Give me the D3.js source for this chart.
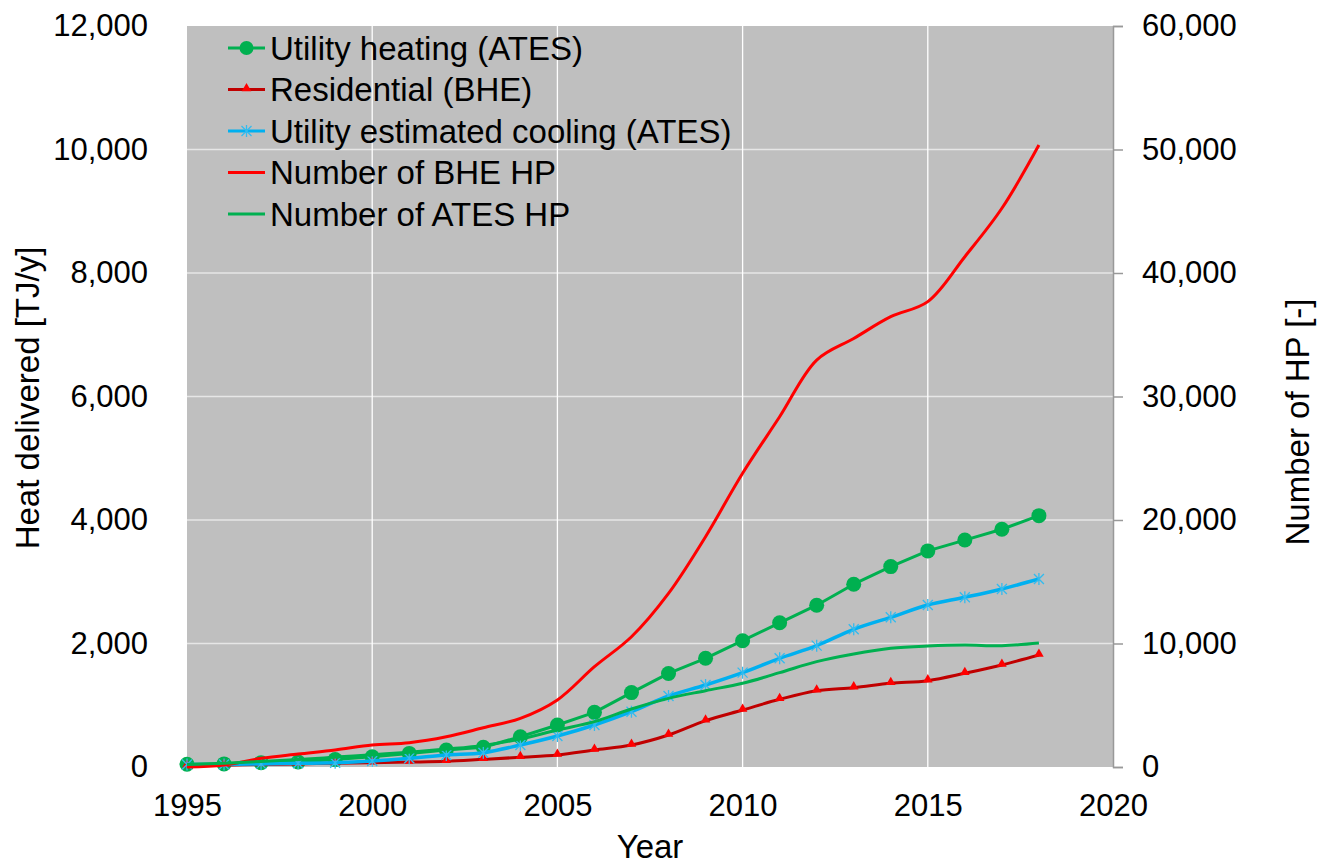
<!DOCTYPE html>
<html>
<head>
<meta charset="UTF-8">
<title>Heat delivered and number of HP</title>
<style>
body { margin: 0; background: #fff; }
text { font-family: "Liberation Sans", Arial, sans-serif; fill: #000; }
</style>
</head>
<body>
<svg width="1320" height="865"></svg>
<script src="https://d3js.org/d3.v7.min.js"></script>
<script>
// years 1995..2018
var years = d3.range(1995, 2019);

// left axis series [TJ/y]
var utilityHeating = [45, 50, 70, 80, 120, 165, 220, 275, 320, 490, 680, 885, 1205, 1515, 1760, 2045, 2335, 2620, 2960, 3245, 3500, 3675, 3850, 4070];
var residential = [20, 30, 40, 50, 60, 70, 80, 92, 124, 157, 194, 275, 356, 518, 750, 923, 1096, 1236, 1285, 1355, 1398, 1517, 1652, 1814];
var utilityCooling = [40, 40, 50, 60, 70, 97, 141, 194, 232, 356, 502, 680, 896, 1150, 1328, 1528, 1760, 1965, 2230, 2424, 2623, 2748, 2883, 3044];

// right axis series [-]
var bheHP = [0, 160, 700, 1050, 1380, 1780, 1970, 2450, 3180, 3940, 5430, 8120, 10550, 14060, 18650, 23780, 28360, 32950, 34700, 36460, 37680, 41320, 45240, 50360];
var atesHP = [200, 300, 450, 600, 800, 1000, 1200, 1450, 1750, 2270, 3000, 3670, 4700, 5560, 6180, 6780, 7640, 8530, 9150, 9610, 9800, 9880, 9820, 10040];

var xTicks = [1995, 2000, 2005, 2010, 2015, 2020];
var yLeftTicks = [0, 2000, 4000, 6000, 8000, 10000, 12000];
var yRightTicks = [0, 10000, 20000, 30000, 40000, 50000, 60000];

var svg = d3.select("svg"),
    plotLeft = 187, plotRight = 1113, plotTop = 26, plotBottom = 767,
    fontSize = 31, labelSize = 33;

var x = d3.scaleLinear().domain([1995, 2020]).range([plotLeft, plotRight]);
var yL = d3.scaleLinear().domain([0, 12000]).range([plotBottom, plotTop]);
var yR = d3.scaleLinear().domain([0, 60000]).range([plotBottom, plotTop]);
var fmt = d3.format(",");

// plot background
svg.append("rect")
  .attr("x", plotLeft).attr("y", plotTop)
  .attr("width", plotRight - plotLeft).attr("height", plotBottom - plotTop)
  .attr("fill", "#bfbfbf");

// grid
svg.append("g").selectAll("line").data(yLeftTicks.slice(1, -1)).enter().append("line")
  .attr("x1", plotLeft).attr("x2", plotRight)
  .attr("y1", function(d) { return yL(d); }).attr("y2", function(d) { return yL(d); })
  .attr("stroke", "#e6e6e6").attr("stroke-width", 1.5);
svg.append("g").selectAll("line").data(xTicks.slice(1, -1)).enter().append("line")
  .attr("x1", function(d) { return x(d); }).attr("x2", function(d) { return x(d); })
  .attr("y1", plotTop).attr("y2", plotBottom)
  .attr("stroke", "#fff").attr("stroke-width", 1.3);

// axes
var xAxis = svg.append("g").attr("transform", "translate(0," + plotBottom + ")")
  .call(d3.axisBottom(x).tickValues(xTicks).tickFormat(d3.format("d")).tickSize(0).tickPadding(27));
var yAxisL = svg.append("g").attr("transform", "translate(" + plotLeft + ",0)")
  .call(d3.axisLeft(yL).tickValues(yLeftTicks).tickFormat(fmt).tickSize(0).tickPadding(39));
var yAxisR = svg.append("g").attr("transform", "translate(" + plotRight + ",0)")
  .call(d3.axisRight(yR).tickValues(yRightTicks).tickFormat(fmt).tickSize(10).tickPadding(19));

xAxis.select(".domain").remove();
yAxisL.select(".domain").remove();
yAxisR.select(".domain").attr("stroke", "#999").attr("stroke-width", 1.5);
yAxisR.selectAll(".tick line").attr("stroke", "#999").attr("stroke-width", 1.5);
svg.selectAll(".tick text").style("font-size", fontSize + "px").style("font-family", "'Liberation Sans', Arial, sans-serif");

// axis titles
svg.append("text").text("Year")
  .attr("x", 650).attr("y", 858).attr("text-anchor", "middle")
  .style("font-size", labelSize + "px");
svg.append("text").text("Heat delivered [TJ/y]")
  .attr("transform", "translate(39,398) rotate(-90)").attr("text-anchor", "middle")
  .style("font-size", labelSize + "px");
svg.append("text").text("Number of HP [-]")
  .attr("transform", "translate(1309,422) rotate(-90)").attr("text-anchor", "middle")
  .style("font-size", labelSize + "px");

var smooth = d3.curveCatmullRom.alpha(0.5);

function series(values, yScale, color, width, curve) {
  var line = d3.line()
    .x(function(d, i) { return x(years[i]); })
    .y(function(d) { return yScale(d); })
    .curve(curve);
  svg.append("path").datum(values)
    .attr("d", line)
    .attr("fill", "none")
    .attr("stroke", color)
    .attr("stroke-width", width)
    .attr("stroke-linejoin", "round");
}

var asterisk = "M-5,-5L5,5M-5,5L5,-5M0,-6L0,6";

// Utility heating (ATES)
series(utilityHeating, yL, "#00b050", 3, d3.curveLinear);
svg.append("g").selectAll("circle").data(utilityHeating).enter().append("circle")
  .attr("cx", function(d, i) { return x(years[i]); })
  .attr("cy", function(d) { return yL(d); })
  .attr("r", 7.5).attr("fill", "#00b050");

// Residential (BHE)
series(residential, yL, "#c00000", 3, smooth);
svg.append("g").selectAll("path").data(residential).enter().append("path")
  .attr("d", d3.symbol().type(d3.symbolTriangle).size(40))
  .attr("transform", function(d, i) { return "translate(" + x(years[i]) + "," + (yL(d) - 1) + ")"; })
  .attr("fill", "#ff0000");

// Utility estimated cooling (ATES)
series(utilityCooling, yL, "#00b0f0", 3.5, smooth);
svg.append("g").selectAll("path").data(utilityCooling).enter().append("path")
  .attr("d", asterisk)
  .attr("transform", function(d, i) { return "translate(" + x(years[i]) + "," + yL(d) + ")"; })
  .attr("stroke", "#33bbee").attr("stroke-width", 1.3).attr("fill", "none");

// Number of BHE HP, Number of ATES HP
series(bheHP, yR, "#ff0000", 3, smooth);
series(atesHP, yR, "#00b050", 3, smooth);

// legend
var legend = [
  {name: "Utility heating (ATES)", color: "#00b050", marker: "circle"},
  {name: "Residential (BHE)", color: "#c00000", marker: "triangle"},
  {name: "Utility estimated cooling (ATES)", color: "#00b0f0", marker: "asterisk"},
  {name: "Number of BHE HP", color: "#ff0000", marker: null},
  {name: "Number of ATES HP", color: "#00b050", marker: null}
];
var lg = svg.append("g").selectAll("g").data(legend).enter().append("g")
  .attr("transform", function(d, i) { return "translate(228," + (48 + i * 41.5) + ")"; });
lg.append("line").attr("x1", 0).attr("x2", 37).attr("y1", 0).attr("y2", 0)
  .attr("stroke", function(d) { return d.color; }).attr("stroke-width", 3);
lg.filter(function(d) { return d.marker == "circle"; }).append("circle")
  .attr("cx", 18.5).attr("r", 7).attr("fill", "#00b050");
lg.filter(function(d) { return d.marker == "triangle"; }).append("path")
  .attr("d", d3.symbol().type(d3.symbolTriangle).size(40))
  .attr("transform", "translate(18.5,-1)").attr("fill", "#ff0000");
lg.filter(function(d) { return d.marker == "asterisk"; }).append("path")
  .attr("d", asterisk).attr("transform", "translate(18.5,0)")
  .attr("stroke", "#33bbee").attr("stroke-width", 1.3).attr("fill", "none");
lg.append("text").text(function(d) { return d.name; })
  .attr("x", 42).attr("dy", "0.35em")
  .style("font-size", labelSize + "px");
</script>
</body>
</html>
